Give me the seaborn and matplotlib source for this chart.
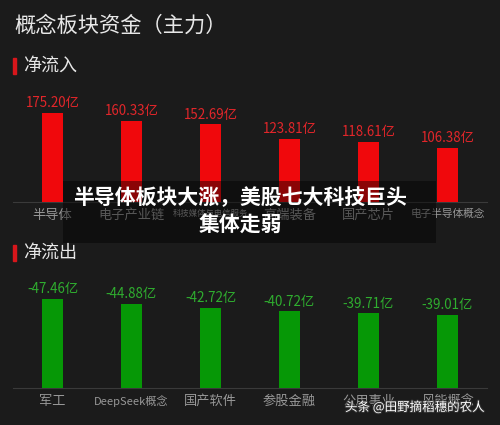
import matplotlib
matplotlib.use("Agg")
import matplotlib.pyplot as plt
import matplotlib.patheffects as pe
from matplotlib.patches import Rectangle
import seaborn as sns
import pandas as pd

# ---- data ----
inflow_categories = ["半导体", "电子产业链", "科技媒体与电信服务", "高端装备", "国产芯片", "电子半导体概念"]
inflow_values = [175.20, 160.33, 152.69, 123.81, 118.61, 106.38]
outflow_categories = ["军工", "DeepSeek概念", "国产软件", "参股金融", "公用事业", "风能概念"]
outflow_values = [-47.46, -44.88, -42.72, -40.72, -39.71, -39.01]

title = "概念板块资金（主力）"
inflow_title = "净流入"
outflow_title = "净流出"
caption_lines = ["半导体板块大涨，美股七大科技巨头", "集体走弱"]
watermark = "头条 @田野摘稻穗的农人"

# ---- style ----
BG = "#1b1b1b"
RED = "#f0080c"
GREEN = "#069806"
RED_TXT = "#e2262a"
GREEN_TXT = "#2fae2f"
GREY_TXT = "#979797"

sns.set_theme(style="dark")
plt.rcParams["font.family"] = ["Noto Sans CJK SC", "DejaVu Sans"]

W, H = 500, 425
fig = plt.figure(figsize=(W / 100, H / 100), dpi=100, facecolor=BG)


def fx(px):
    return px / W


def fy(py):
    return 1 - py / H


def draw_panel(ax, cats, vals, bar_color, txt_color, ymax, label_sizes):
    df = pd.DataFrame({"cat": cats, "val": [abs(v) for v in vals]})
    sns.barplot(data=df, x="cat", y="val", ax=ax, color=bar_color,
                saturation=1, width=0.27, errorbar=None, zorder=3,
                linewidth=0, edgecolor="none")
    ax.set_facecolor(BG)
    ax.set_xlim(-0.5, len(cats) - 0.5)
    ax.set_ylim(0, ymax)
    ax.set_xlabel("")
    ax.set_ylabel("")
    ax.set_yticks([])
    ax.grid(False)
    for s in ("top", "left", "right"):
        ax.spines[s].set_visible(False)
    ax.spines["bottom"].set_color("#3a3a3a")
    ax.spines["bottom"].set_linewidth(0.8)
    ax.tick_params(axis="x", length=0, pad=5, colors=GREY_TXT)
    for lab, fs in zip(ax.get_xticklabels(), label_sizes):
        lab.set_fontsize(fs)
        lab.set_color(GREY_TXT)
    ax.bar_label(ax.containers[0], labels=[f"{v:.2f}亿" for v in vals],
                 padding=2, color=txt_color, fontsize=9.6)


ax1 = fig.add_axes([fx(13), fy(202), fx(474), 112 / H])
draw_panel(ax1, inflow_categories, inflow_values, RED, RED_TXT, 220.5,
           [9.5, 9.5, 6.0, 9.5, 9.5, 7.7])

ax2 = fig.add_axes([fx(13), fy(388), fx(474), 113 / H])
draw_panel(ax2, outflow_categories, outflow_values, GREEN, GREEN_TXT, 60.1,
           [9.5, 8.0, 9.5, 9.5, 9.5, 9.5])

# titles
fig.text(fx(14), fy(26), title, fontsize=15.3, color="#e8e8e8", va="center", ha="left")
for txt, yc in ((inflow_title, 66), (outflow_title, 253)):
    fig.text(fx(23), fy(yc), txt, fontsize=13, color="#e8e8e8", va="center", ha="left")
    fig.patches.append(Rectangle((fx(13), fy(yc + 8)), fx(3), 16 / H,
                                 transform=fig.transFigure, color="#d8161b",
                                 zorder=5))

# caption overlay
fig.patches.append(Rectangle((fx(63), fy(243)), fx(373), 62 / H,
                             transform=fig.transFigure, facecolor="black",
                             alpha=0.42, edgecolor="none", zorder=10))
fig.text(fx(240), fy(198), caption_lines[0], fontsize=15, fontweight="bold",
         color="white", ha="center", va="center", zorder=11)
fig.text(fx(240), fy(225), caption_lines[1], fontsize=15, fontweight="bold",
         color="white", ha="center", va="center", zorder=11)

# watermark
fig.text(fx(345), fy(407), watermark, fontsize=9, color="white", ha="left",
         va="center", zorder=12,
         path_effects=[pe.withStroke(linewidth=1.5, foreground="#333333")])

fig.savefig("out.png", dpi=100, facecolor=BG)
